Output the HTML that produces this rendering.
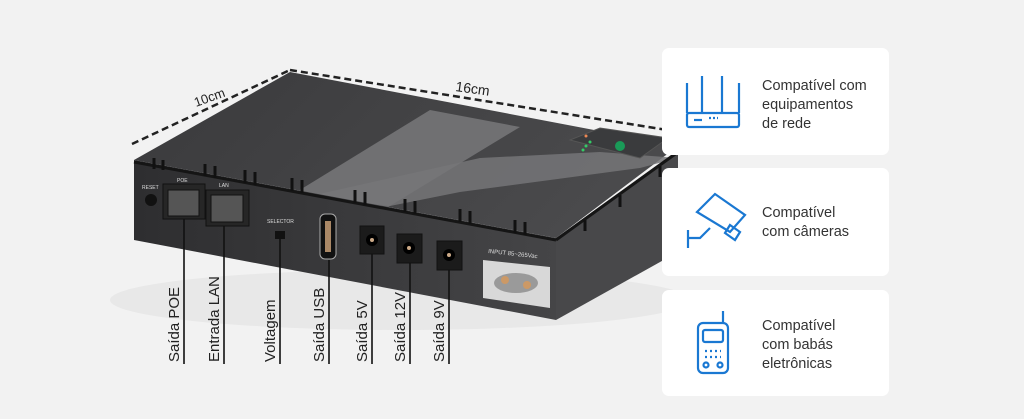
<!DOCTYPE html>
<html><head><meta charset="utf-8"><style>
html,body{margin:0;padding:0;background:#f2f2f2;}
body{width:1024px;height:419px;overflow:hidden;position:relative;font-family:"Liberation Sans",sans-serif;}
.card{position:absolute;left:662px;width:227px;background:#fff;border-radius:7px;}
.t{position:absolute;left:100px;font-size:14.5px;line-height:19px;color:#333;}
</style></head><body>
<svg width="1024" height="419" style="position:absolute;left:0;top:0">
<defs>
<linearGradient id="top" x1="0" y1="0" x2="1" y2="0.3"><stop offset="0" stop-color="#3a3a3c"/><stop offset="1" stop-color="#4a4a4c"/></linearGradient>
<linearGradient id="front" x1="0" y1="0" x2="1" y2="0"><stop offset="0" stop-color="#2e2e30"/><stop offset="1" stop-color="#454547"/></linearGradient>
</defs>
<ellipse cx="400" cy="300" rx="290" ry="30" fill="#e8e8e8"/>
<!-- top face -->
<polygon points="134,160 290,72 678,146 556,238" fill="url(#top)"/>
<polygon points="430,110 520,127 380,212 290,196" fill="#707072"/>
<polygon points="310,196 390,206 460,192 640,168 678,158 600,152 480,158" fill="#767678" opacity="0.85"/>
<!-- green panel -->
<polygon points="570,140 600,128 668,138 640,158" fill="#3a3b3d" stroke="#555" stroke-width="1"/>
<circle cx="586" cy="136" r="1.5" fill="#e85"/><circle cx="590" cy="142" r="1.5" fill="#3c6"/><circle cx="586" cy="146" r="1.5" fill="#3c6"/><circle cx="583" cy="150" r="1.5" fill="#3c6"/>
<circle cx="620" cy="146" r="5" fill="#1a9a58"/>
<!-- front face -->
<polygon points="134,160 556,238 556,320 134,240" fill="url(#front)"/>
<!-- right face -->
<polygon points="556,238 678,150 678,252 556,320" fill="#48484a"/>
<line x1="134" y1="162" x2="556" y2="240" stroke="#151515" stroke-width="3"/>
<line x1="556" y1="240" x2="678" y2="152" stroke="#151515" stroke-width="3"/>
<g stroke="#111" stroke-width="3">
<line x1="154" y1="158" x2="154" y2="169"/><line x1="163" y1="160" x2="163" y2="170"/><line x1="205" y1="164" x2="205" y2="176"/><line x1="215" y1="166" x2="215" y2="178"/><line x1="245" y1="170" x2="245" y2="183"/><line x1="255" y1="172" x2="255" y2="185"/><line x1="292" y1="178" x2="292" y2="191"/><line x1="302" y1="180" x2="302" y2="193"/><line x1="355" y1="190" x2="355" y2="203"/><line x1="365" y1="192" x2="365" y2="205"/><line x1="405" y1="199" x2="405" y2="212"/><line x1="415" y1="201" x2="415" y2="214"/><line x1="460" y1="209" x2="460" y2="222"/><line x1="470" y1="211" x2="470" y2="224"/><line x1="515" y1="220" x2="515" y2="233"/><line x1="525" y1="222" x2="525" y2="235"/>
<line x1="585" y1="220" x2="585" y2="231"/><line x1="620" y1="195" x2="620" y2="207"/><line x1="660" y1="166" x2="660" y2="177"/>
</g>
<circle cx="151" cy="200" r="6" fill="#111"/>
<text x="142" y="189" font-size="5" fill="#ddd">RESET</text>
<rect x="163" y="184" width="42" height="35" fill="#262626" stroke="#111"/>
<rect x="168" y="190" width="31" height="26" fill="#555" stroke="#111"/>
<rect x="206" y="190" width="43" height="36" fill="#262626" stroke="#111"/>
<rect x="211" y="195" width="32" height="27" fill="#555" stroke="#111"/>
<text x="177" y="182" font-size="5" fill="#ddd">POE</text><text x="219" y="187" font-size="5" fill="#ddd">LAN</text>
<text x="267" y="223" font-size="5" fill="#ddd">SELECTOR</text>
<rect x="275" y="231" width="10" height="8" fill="#111"/>
<rect x="320" y="214" width="16" height="45" rx="5" fill="#111" stroke="#aaa"/>
<rect x="325" y="221" width="6" height="31" fill="#a86"/>
<rect x="360" y="226" width="24" height="28" fill="#1b1b1b" stroke="#111"/><circle cx="372" cy="240" r="6" fill="#000"/><circle cx="372" cy="240" r="2" fill="#ca8"/>
<rect x="397" y="234" width="25" height="29" fill="#1b1b1b" stroke="#111"/><circle cx="409" cy="248" r="6" fill="#000"/><circle cx="409" cy="248" r="2" fill="#ca8"/>
<rect x="437" y="241" width="25" height="29" fill="#1b1b1b" stroke="#111"/><circle cx="449" cy="255" r="6" fill="#000"/><circle cx="449" cy="255" r="2" fill="#ca8"/>
<polygon points="483,260 550,267 550,308 483,298" fill="#d8d8d8"/>
<ellipse cx="516" cy="283" rx="22" ry="10" fill="#9a9a9a"/>
<circle cx="505" cy="280" r="4" fill="#c96"/><circle cx="527" cy="285" r="4" fill="#c96"/>
<text x="488" y="253" font-size="6" fill="#ddd" transform="rotate(6 488 253)">INPUT 85~265Vac</text>
<line x1="132" y1="144" x2="290" y2="70" stroke="#222" stroke-width="2.5" stroke-dasharray="7,4"/>
<line x1="290" y1="70" x2="680" y2="132" stroke="#222" stroke-width="2.5" stroke-dasharray="7,4"/>
<text x="196" y="107" font-size="13" fill="#222" transform="rotate(-20 196 107)">10cm</text>
<text x="455" y="91" font-size="14" fill="#222" transform="rotate(8 455 91)">16cm</text>
<g stroke="#111" stroke-width="1.6">
<line x1="184" y1="219" x2="184" y2="364"/><line x1="224" y1="226" x2="224" y2="364"/><line x1="280" y1="239" x2="280" y2="364"/><line x1="329" y1="260" x2="329" y2="364"/><line x1="372" y1="254" x2="372" y2="364"/><line x1="410" y1="263" x2="410" y2="364"/><line x1="449" y1="270" x2="449" y2="364"/>
</g>
<g font-size="15" fill="#222">
<text transform="translate(179 362) rotate(-90)">Saída POE</text>
<text transform="translate(219 362) rotate(-90)">Entrada LAN</text>
<text transform="translate(275 362) rotate(-90)">Voltagem</text>
<text transform="translate(324 362) rotate(-90)">Saída USB</text>
<text transform="translate(367 362) rotate(-90)">Saída 5V</text>
<text transform="translate(405 362) rotate(-90)">Saída 12V</text>
<text transform="translate(444 362) rotate(-90)">Saída 9V</text>
</g>
</svg>
<div class="card" style="top:48px;height:107px">
<svg width="70" height="70" style="position:absolute;left:20px;top:25px" fill="none" stroke="#1a78d2" stroke-width="2.2">
<rect x="5" y="40" width="52" height="14" rx="2"/><line x1="5" y1="10" x2="5" y2="40"/><line x1="57" y1="10" x2="57" y2="40"/><line x1="20" y1="3" x2="20" y2="40"/><line x1="40" y1="3" x2="40" y2="40"/><line x1="12" y1="47" x2="20" y2="47"/><line x1="27" y1="45" x2="36" y2="45" stroke-dasharray="2,2"/>
</svg>
<div class="t" style="top:29px">Compatível com<br>equipamentos<br>de rede</div></div>
<div class="card" style="top:168px;height:108px">
<svg width="70" height="70" style="position:absolute;left:23px;top:22px" fill="none" stroke="#1a78d2" stroke-width="2.2">
<polygon points="12,22 30,4 60,25 45,42"/><polygon points="45,35 55,42 50,50 40,43"/><path d="M25,38 l-10,10 h-12"/><line x1="3" y1="40" x2="3" y2="58"/>
</svg>
<div class="t" style="top:36px">Compatível<br>com câmeras</div></div>
<div class="card" style="top:290px;height:106px">
<svg width="60" height="75" style="position:absolute;left:30px;top:18px" fill="none" stroke="#1a78d2" stroke-width="2.2">
<rect x="6" y="15" width="30" height="50" rx="5"/><rect x="11" y="22" width="20" height="12" rx="2"/><line x1="31" y1="3" x2="31" y2="15"/><circle cx="14" cy="57" r="2.5"/><circle cx="28" cy="57" r="2.5"/><line x1="13" y1="43" x2="29" y2="43" stroke-dasharray="2,3"/><line x1="13" y1="49" x2="29" y2="49" stroke-dasharray="2,3"/>
</svg>
<div class="t" style="top:27px">Compatível<br>com babás<br>eletrônicas</div></div>
</body></html>
